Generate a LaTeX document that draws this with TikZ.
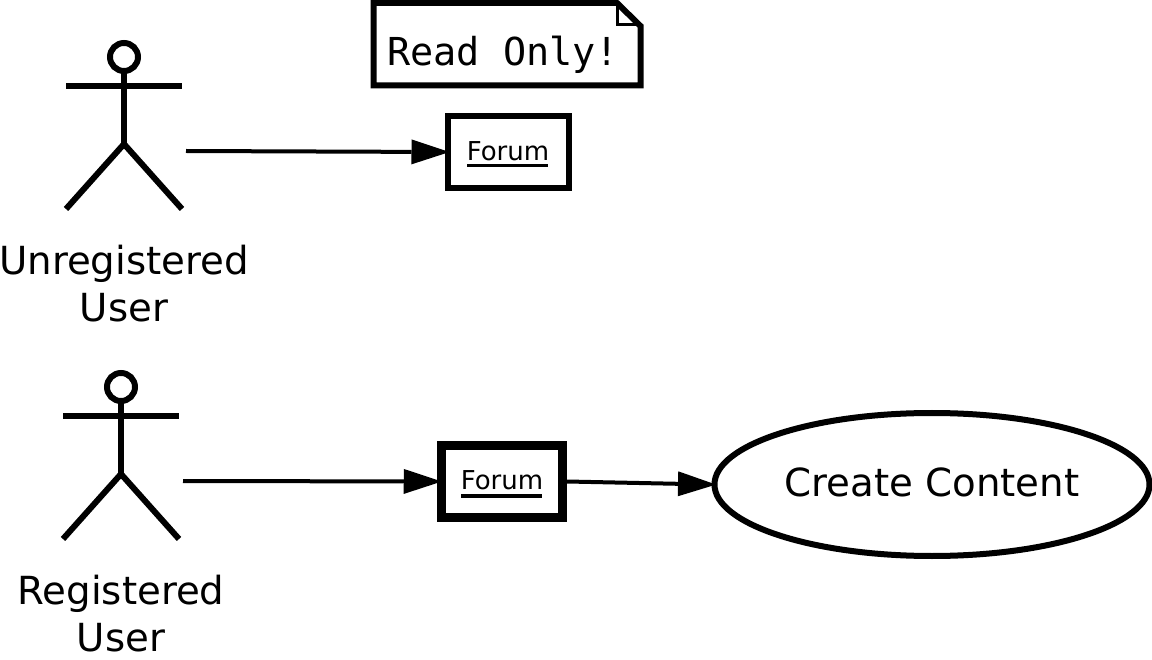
\documentclass[tikz,border=0pt]{standalone}
\usepackage{fontspec}
\setmainfont{DejaVu Sans}
\newfontfamily\notefont{DejaVu Sans Mono}
\usetikzlibrary{arrows.meta,shapes.geometric}
\tikzset{
  actorline/.style={line width=6pt,line cap=butt,line join=miter},
  actorlabel/.style={font=\fontsize{38.7}{47}\selectfont,align=center,inner sep=0pt},
  conn/.style={line width=4pt,-{Triangle[length=38pt,width=25pt,line width=0pt]},shorten >=-4.5pt},
  forumlabel/.style={font=\fontsize{26}{30}\selectfont,inner sep=0pt},
  forumrule/.style={line width=3pt},
  box/.style={draw,rectangle,inner sep=0pt,minimum width=120.5pt,minimum height=72pt},
  usecase/.style={draw,ellipse,line width=6pt,inner sep=0pt,minimum width=435pt,minimum height=143pt},
  usecaselabel/.style={font=\fontsize{38.7}{46}\selectfont,inner sep=0pt},
  notetext/.style={font=\notefont\fontsize{38.5}{46}\selectfont,inner sep=0pt},
}
\newcommand{\stickman}[2]{%
  \draw[actorline] (#1,#2-29) circle (14pt);
  \draw[actorline] (#1,#2-15) -- (#1,#2+58);
  \draw[actorline] (#1-58,#2) -- (#1+58,#2);
  \draw[actorline] (#1-58,#2+123) -- (#1,#2+58) -- (#1+58,#2+123);
}
\begin{document}
\begin{tikzpicture}[x=1pt,y=-1pt]
\useasboundingbox (0,0) rectangle (1152,660);
% actors
\stickman{124}{86}
\stickman{121}{416}
\coordinate (u1) at (186,151);
\coordinate (u2) at (183,481);
\node[actorlabel] (l1) at (124,284) {Unregistered\\User};
\node[actorlabel] (l2) at (121,613.5) {Registered\\User};
% note
\draw[line width=6pt,line join=miter] (373.5,3) -- (617,3) -- (640.5,26) -- (640.5,85.5) -- (373.5,85.5) -- cycle;
\draw[line width=3pt] (617,3) -- (617,25) -- (640.5,25);
\node[notetext,anchor=base west] (note) at (387,66) {Read Only!};
% boxes
\node[box,line width=6pt] (f1) at (508.25,152) {};
\node[forumlabel] (t1) at (508,151) {Forum};
\draw[forumrule] (467,165.5) -- (548,165.5);
\node[box,line width=9pt] (f2) at (502,481.5) {};
\node[forumlabel] (t2) at (502,480) {Forum};
\draw[forumrule,line width=4pt] (461,495.5) -- (542,495.5);
% use case
\node[usecase] (uc) at (932,484.5) {};
\node[usecaselabel] (uct) at (932,482.5) {Create Content};
% connectors
\draw[conn] (u1) -- (f1.west);
\draw[conn] (u2) -- (f2.west);
\draw[conn] (f2.east) -- (uc.west);
\end{tikzpicture}
\end{document}
